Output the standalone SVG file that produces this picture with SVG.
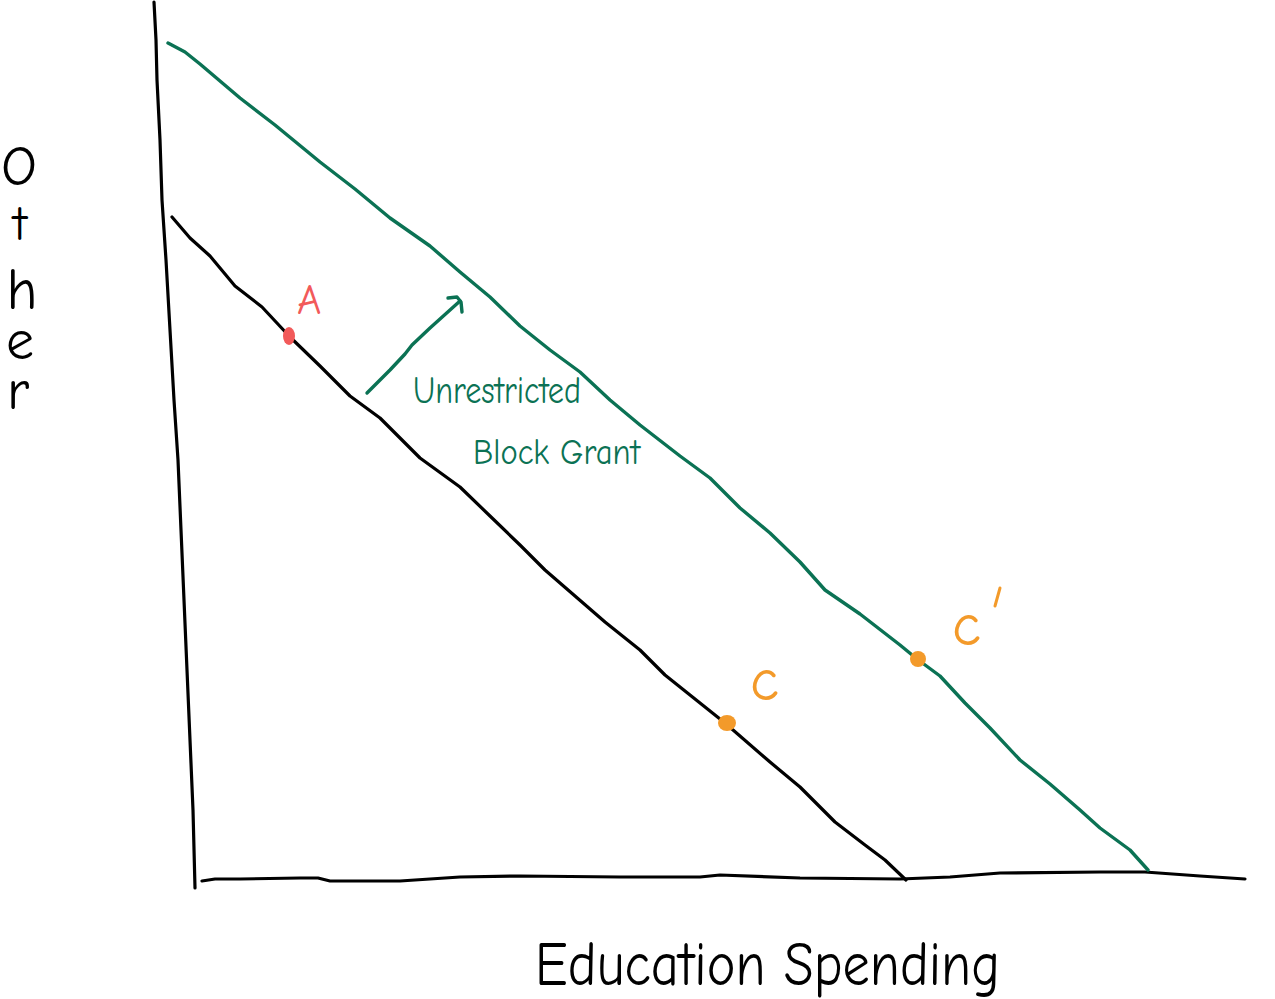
<svg xmlns="http://www.w3.org/2000/svg" width="1275" height="999" viewBox="0 0 1275 999">
<style>
.ln{fill:none;stroke-linecap:round;stroke-linejoin:round}
.blk{stroke:#000;stroke-width:3.2}
.grn{stroke:#0b7254;stroke-width:3.4}
.t{font-family:"Comic Neue","Liberation Sans",sans-serif}
</style>
<rect width="1275" height="999" fill="#fff"/>
<g id="connectors">
<polyline id="y-axis" class="ln blk" points="154,2 156,40 157,80 160,140 162,200 166,260 170,330 174,400 178,460 181,530 184,600 187,670 190,740 193,810 195,888"/>
<polyline id="x-axis" class="ln blk" points="202,881 215,879 240,879 300,878 318,878 330,881 400,881 460,877 520,876 620,877 700,877 720,875 800,878 900,879 950,877 1000,873 1100,872 1145,872 1200,876 1245,879"/>
<polyline id="budget" class="ln blk" points="172,217 190,238 210,256 235,286 262,307 290,337 320,366 350,396 380,418 420,458 460,487 490,516 520,545 545,570 575,596 605,622 640,650 665,675 690,695 725,723 770,762 800,787 835,822 865,845 885,860 906,880"/>
<polyline id="budget-grant" class="ln grn" points="168,43 185,52 200,64 240,98 275,125 320,162 355,189 390,218 430,246 460,272 490,297 520,326 550,350 580,372 610,400 640,425 680,456 710,478 740,508 770,533 800,562 825,590 860,614 900,645 917,659 940,676 965,703 990,728 1020,760 1050,784 1080,810 1100,828 1130,850 1148,870"/>
<polyline id="shift-arrow" class="ln grn" points="367,393 390,370 405,354 412,345 430,328 460,301"/>
<polyline class="ln grn" points="448,298 457,297 461,302 462,312"/>
</g>
<g id="A">
<ellipse cx="289" cy="336" rx="6" ry="9" fill="#f25a5a"/>
<text class="t" x="297" y="314" font-size="42" fill="#f25a5a">A</text>
</g>
<g id="C">
<ellipse cx="727" cy="723" rx="9" ry="8" fill="#f39a2a"/>
<text class="t" x="750" y="700" font-size="60" fill="#f39a2a">c</text>
</g>
<g id="C-prime">
<ellipse cx="918" cy="659" rx="8" ry="8" fill="#f39a2a"/>
<text class="t" x="952" y="645" font-size="60" fill="#f39a2a">c</text>
<line x1="1000" y1="588" x2="995" y2="606" stroke="#f39a2a" stroke-width="3" stroke-linecap="round"/>
</g>
<g id="grant-label" fill="#0b7254">
<text class="t" x="413" y="403" font-size="38" textLength="168" lengthAdjust="spacingAndGlyphs">Unrestricted</text>
<text class="t" x="473" y="464" font-size="36" textLength="167" lengthAdjust="spacingAndGlyphs">Block Grant</text>
</g>
<g id="y-label" fill="#000" text-anchor="middle">
<text class="t" font-size="52"><tspan x="19" y="185" font-size="56">O</tspan><tspan x="20" y="240" font-size="48">t</tspan><tspan x="22" y="309" font-size="58">h</tspan><tspan x="20" y="359" font-size="56">e</tspan><tspan x="18" y="409" font-size="56">r</tspan></text>
</g>
<g id="x-label">
<text class="t" x="535" y="985" font-size="62" textLength="465" lengthAdjust="spacingAndGlyphs" fill="#000">Education Spending</text>
</g>
</svg>
